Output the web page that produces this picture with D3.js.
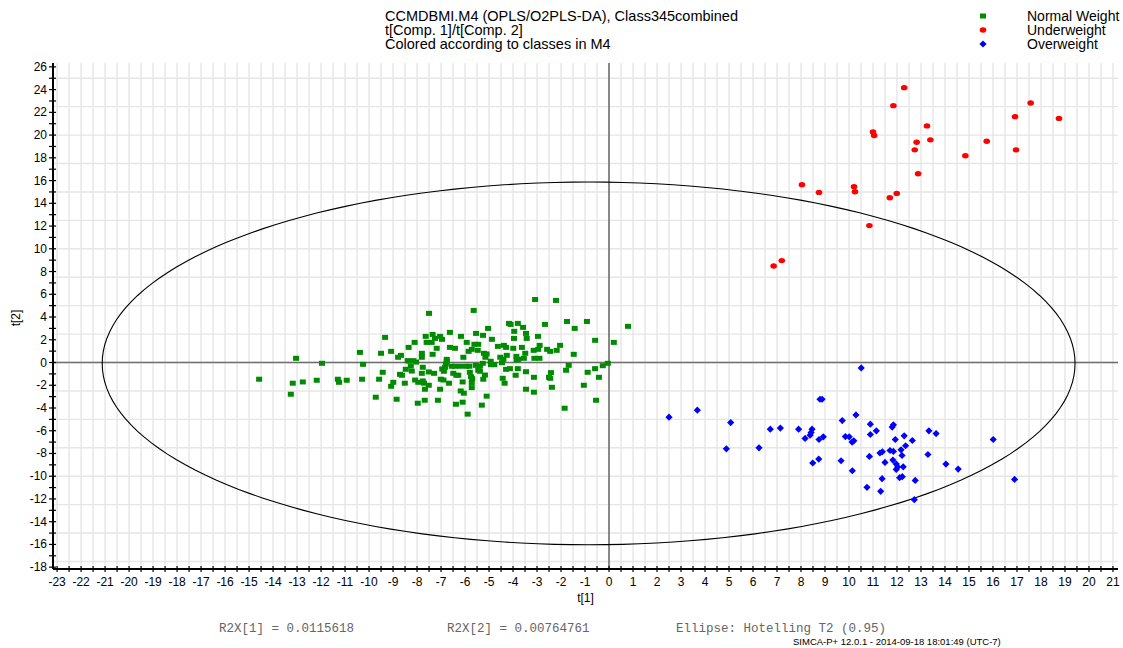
<!DOCTYPE html>
<html>
<head>
<meta charset="utf-8">
<script src="https://cdn.jsdelivr.net/npm/d3@7/dist/d3.min.js"></script>
<style>
  html, body { margin: 0; padding: 0; background: #fff; }
  svg { display: block; font-family: "Liberation Sans", Arial, sans-serif; }
</style>
</head>
<body>
<svg id="chart" width="1123" height="648"></svg>
<script>
// Score plot t[1] vs t[2], three BMI classes

const titleLines = [
  "CCMDBMI.M4 (OPLS/O2PLS-DA), Class345combined",
  "t[Comp. 1]/t[Comp. 2]",
  "Colored according to classes in M4"
];
const classNames = ["Normal Weight", "Underweight", "Overweight"];
const classColors = ["#008c00", "#ff0000", "#0000ff"];

const xTickLabels = d3.range(-23, 22, 1);
const yTickLabels = d3.range(-18, 27, 2);

const footerStats = ["R2X[1] = 0.0115618", "R2X[2] = 0.00764761", "Ellipse: Hotelling T2 (0.95)"];
const footerStamp = "SIMCA-P+ 12.0.1 - 2014-09-18 18:01:49 (UTC-7)";

// Hotelling T2 ellipse: centre and semi-axes in score units
const ellipseCenter = [-0.85, -0.08];
const ellipseRadii = [20.27, 15.95];

// Normal Weight scores [t1, t2]
const normalT1 = [-14.58,-13.04,-13.18,-12.76,-13.26,-11.96,-12.18,-11.30,-11.25,-10.93,-10.38,-10.25,-10.29,-9.33,-9.50,-9.08,-9.43,-9.58,-9.72,-8.79,-8.67,-8.99,-9.08,-8.85,-8.71,-8.63,-8.51,-8.35,-8.10,-8.33,-8.39,-8.15,-8.04,-8.26,-8.47,-8.22,-8.08,-7.95,-7.97,
  -3.08,-2.21,-7.50,-5.64,0.79,-4.17,-3.80,-4.10,-3.58,-5.04,-2.67,-1.75,-0.92,-1.43,-6.63,-7.35,-7.64,-7.04,-6.17,-5.54,-5.25,-3.95,-3.46,-2.96,-7.25,-6.96,-4.88,-3.96,-3.43,-0.58,0.20,-7.60,-7.39,-5.93,-5.61,-5.45,-6.63,-6.42,-7.18,-4.63,-4.38,-4.29,-3.99,-3.63,-2.89,-3.14,-2.95,-2.04,-2.58,-2.45,-2.18,-5.85,-5.72,-5.47,-7.80,-7.35,-5.21,-5.10,-3.49,-1.47,-7.80,-6.76,-6.76,-6.07,-5.15,-4.53,-4.26,-4.40,-4.46,-3.86,-3.78,-3.85,-3.55,-3.11,-2.90,-4.93,-4.78,-4.92,-5.26,-5.38,-5.55,-6.21,-5.82,-5.96,-6.80,-6.55,-6.42,-7.76,-6.95,-6.83,-6.88,-4.29,-4.13,-3.80,-3.46,-1.68,-1.79,-0.89,-0.58,-0.26,-0.05,-7.51,-7.29,-7.80,-6.49,-6.28,-6.36,-5.80,-5.45,-5.38,-5.75,-5.70,-5.17,-5.24,-4.43,-3.89,-3.13,-2.50,-2.42,-2.45,-0.42,-7.01,-6.90,-7.76,-7.71,-6.67,-6.10,-5.72,-5.72,-4.35,-7.51,-7.67,-7.04,-6.18,-6.05,-3.46,-3.13,-2.38,-1.05,-5.10,-7.68,-7.13,-6.10,-6.38,-5.30,-0.54,-1.85,-5.89];
const normalT2 = [-1.47,0.37,-1.82,-1.71,-2.79,-0.07,-1.56,-1.47,-1.74,-1.56,0.89,-0.16,-1.47,2.21,0.81,0.98,-0.86,-1.47,-3.05,0.46,0.63,-1.74,-2.09,-3.23,-1.04,-1.12,-1.82,1.33,1.77,0.13,0.16,0.16,0.04,-0.31,-0.60,-0.75,-1.54,-1.74,-3.58,
  5.54,5.46,4.32,4.58,3.18,3.44,3.44,3.35,3.09,3.00,3.35,3.61,3.61,3.00,2.65,2.47,2.30,2.30,2.30,2.56,2.39,2.74,2.56,2.30,2.12,2.04,2.04,2.12,2.12,1.95,1.77,1.77,1.77,1.77,1.60,1.60,1.33,1.25,1.25,1.42,1.51,1.33,1.25,1.33,1.51,1.07,1.16,1.51,1.16,0.98,1.07,0.98,1.16,1.07,0.81,0.72,0.81,0.75,0.81,0.72,0.46,0.28,0.11,0.46,0.46,0.46,0.63,0.28,-0.02,0.54,0.28,0.22,0.37,0.37,0.37,0.11,-0.19,-0.19,-0.07,-0.31,-0.25,-0.33,-0.33,-0.33,-0.13,-0.33,-0.33,-0.42,-0.57,-0.42,-0.77,-0.60,-0.54,-0.54,-0.81,-0.25,-0.68,-0.86,-0.54,-0.28,-0.07,-0.83,-0.95,-0.95,-0.95,-1.12,-1.12,-0.86,-0.68,-0.77,-1.25,-1.42,-1.10,-1.47,-1.39,-1.12,-1.30,-1.30,-0.89,-1.39,-1.30,-1.47,-1.54,-1.62,-1.82,-1.82,-1.71,-1.77,-2.21,-1.82,-2.00,-2.35,-2.35,-2.50,-2.70,-2.35,-2.61,-2.18,-2.00,-2.96,-3.32,-3.32,-3.49,-3.67,-3.75,-3.32,-4.02,-4.54];

// Underweight scores
const underT1 = [12.30,11.85,17.57,16.92,18.75,13.25,11.00,11.05,13.39,12.82,15.74,12.74,16.96,14.85,12.88,8.04,8.75,10.21,10.25,11.99,11.70,10.85,7.20,6.86];
const underT2 = [24.17,22.59,22.82,21.62,21.47,20.81,20.28,19.96,19.58,19.37,19.46,18.70,18.70,18.18,16.60,15.63,14.96,15.46,15.02,14.87,14.49,12.04,8.96,8.49];

// Overweight scores
const overT1 = [10.51,8.79,8.88,3.68,2.50,5.07,10.29,9.72,6.72,7.14,7.90,8.46,8.42,8.38,8.17,8.75,8.93,10.89,11.14,10.89,11.85,11.80,9.85,10.01,10.20,10.13,12.30,11.93,12.64,13.33,13.63,16.01,4.89,6.25,12.36,12.17,11.71,11.85,11.39,11.29,10.85,12.21,13.29,9.67,8.74,8.49,11.50,11.83,11.97,12.03,12.26,11.97,10.14,14.04,14.55,11.38,12.11,12.22,12.76,16.90,10.75,11.32,12.72];
const overT2 = [-0.48,-3.23,-3.23,-4.19,-4.81,-5.28,-4.61,-5.11,-5.86,-5.77,-5.86,-5.86,-6.16,-6.39,-6.68,-6.77,-6.54,-5.42,-6.01,-6.33,-5.48,-5.68,-6.51,-6.54,-6.89,-7.00,-6.45,-6.77,-6.86,-6.01,-6.25,-6.77,-7.59,-7.50,-7.32,-7.68,-7.74,-7.82,-7.85,-7.96,-8.26,-8.18,-8.09,-8.64,-8.49,-8.84,-8.79,-8.58,-8.93,-9.19,-9.17,-9.40,-9.52,-8.93,-9.37,-10.22,-10.13,-10.04,-10.37,-10.28,-10.98,-11.33,-12.06];

const svg = d3.select("#chart");

const plot = { left: 53, right: 1118, top: 63, bottom: 569 };
const x = d3.scaleLinear().domain([-23.17, 21.21]).range([plot.left, plot.right]);
const y = d3.scaleLinear().domain([26.34, -18.16]).range([plot.top, plot.bottom]);

// grid
const grid = svg.append("g");
grid.selectAll("line.v").data(d3.range(-23, 21.01, 0.5)).join("line")
  .attr("x1", d => x(d)).attr("x2", d => x(d))
  .attr("y1", plot.top).attr("y2", plot.bottom)
  .attr("stroke", "#e6e6e6").attr("stroke-width", 1.4);
grid.selectAll("line.h").data(d3.range(-17.5, 26.01, 2.5)).join("line")
  .attr("x1", plot.left).attr("x2", plot.right)
  .attr("y1", d => y(d)).attr("y2", d => y(d))
  .attr("stroke", "#e6e6e6").attr("stroke-width", 1.4);

// zero lines
svg.append("line").attr("x1", plot.left).attr("x2", plot.right)
  .attr("y1", y(0)).attr("y2", y(0)).attr("stroke", "#6e6e6e").attr("stroke-width", 1.6);
svg.append("line").attr("x1", x(0)).attr("x2", x(0))
  .attr("y1", plot.top).attr("y2", plot.bottom).attr("stroke", "#6e6e6e").attr("stroke-width", 1.6);

// ellipse
const ellipsePts = d3.range(0, 361, 2).map(a => {
  const r = a * Math.PI / 180;
  return [ellipseCenter[0] + ellipseRadii[0] * Math.cos(r), ellipseCenter[1] + ellipseRadii[1] * Math.sin(r)];
});
svg.append("path")
  .attr("d", d3.line().x(d => x(d[0])).y(d => y(d[1])).curve(d3.curveLinearClosed)(ellipsePts))
  .attr("fill", "none").attr("stroke", "#000").attr("stroke-width", 1.1);

// axes
const xAxis = svg.append("g").attr("transform", `translate(0,${plot.bottom})`);
xAxis.append("line").attr("x1", plot.left).attr("x2", plot.right).attr("stroke", "#000").attr("stroke-width", 2);
xAxis.selectAll("line.t").data(d3.range(-23, 21.01, 0.5)).join("line")
  .attr("x1", d => x(d)).attr("x2", d => x(d)).attr("y1", -3).attr("y2", 3)
  .attr("stroke", "#000").attr("stroke-width", 1.2);
xAxis.selectAll("text").data(xTickLabels).join("text")
  .attr("x", d => x(d)).attr("y", 17).attr("text-anchor", "middle")
  .attr("font-size", 12).attr("fill", "#000").text(d => d);

const yAxis = svg.append("g").attr("transform", `translate(${plot.left},0)`);
yAxis.append("line").attr("y1", plot.top).attr("y2", plot.bottom).attr("stroke", "#000").attr("stroke-width", 2);
yAxis.selectAll("line.t").data(d3.range(-18, 26.01, 1)).join("line")
  .attr("y1", d => y(d)).attr("y2", d => y(d)).attr("x1", -4).attr("x2", 3)
  .attr("stroke", "#000").attr("stroke-width", 1.2);
yAxis.selectAll("text").data(yTickLabels).join("text")
  .attr("x", -6).attr("y", d => y(d) + 4).attr("text-anchor", "end")
  .attr("font-size", 12).attr("fill", "#000").text(d => d);

svg.append("text").attr("x", (plot.left + plot.right) / 2).attr("y", 602)
  .attr("text-anchor", "middle").attr("font-size", 12).text("t[1]");
svg.append("text").attr("transform", "translate(20,318) rotate(-90)")
  .attr("text-anchor", "middle").attr("font-size", 12).text("t[2]");

// points
const normal = normalT1.map((v, i) => [v, normalT2[i]]);
const under = underT1.map((v, i) => [v, underT2[i]]);
const over = overT1.map((v, i) => [v, overT2[i]]);

svg.append("g").selectAll("rect").data(normal).join("rect")
  .attr("x", d => x(d[0]) - 3).attr("y", d => y(d[1]) - 2.5)
  .attr("width", 6).attr("height", 5).attr("fill", classColors[0]);
svg.append("g").selectAll("ellipse").data(under).join("ellipse")
  .attr("cx", d => x(d[0])).attr("cy", d => y(d[1])).attr("rx", 3.3).attr("ry", 2.7)
  .attr("fill", classColors[1]);
const diamond = "M0,-3.6L3.6,0L0,3.6L-3.6,0Z";
svg.append("g").selectAll("path").data(over).join("path")
  .attr("transform", d => `translate(${x(d[0])},${y(d[1])})`)
  .attr("d", diamond).attr("fill", classColors[2]);

// title
svg.append("g").selectAll("text").data(titleLines).join("text")
  .attr("x", 385).attr("y", (d, i) => 21 + i * 14)
  .attr("font-size", 14.5).attr("fill", "#000").text(d => d);

// legend
const legend = svg.append("g");
classNames.forEach((name, i) => {
  const cy = 16 + i * 14;
  if (i === 0) legend.append("rect").attr("x", 980).attr("y", cy - 2.5).attr("width", 6).attr("height", 5).attr("fill", classColors[0]);
  if (i === 1) legend.append("ellipse").attr("cx", 983).attr("cy", cy).attr("rx", 3.3).attr("ry", 2.7).attr("fill", classColors[1]);
  if (i === 2) legend.append("path").attr("transform", `translate(983,${cy})`).attr("d", diamond).attr("fill", classColors[2]);
  legend.append("text").attr("x", 1027).attr("y", cy + 5).attr("font-size", 14).text(name);
});

// footer
const footX = [219, 447, 676];
svg.append("g").selectAll("text").data(footerStats).join("text")
  .attr("x", (d, i) => footX[i]).attr("y", 632)
  .style("font-family", "'Liberation Mono', 'DejaVu Sans Mono', monospace")
  .attr("font-size", 12.5).attr("fill", "#666").text(d => d);
svg.append("text").attr("x", 793).attr("y", 645)
  .attr("font-size", 9.5).attr("fill", "#000").text(footerStamp);
</script>
</body>
</html>
